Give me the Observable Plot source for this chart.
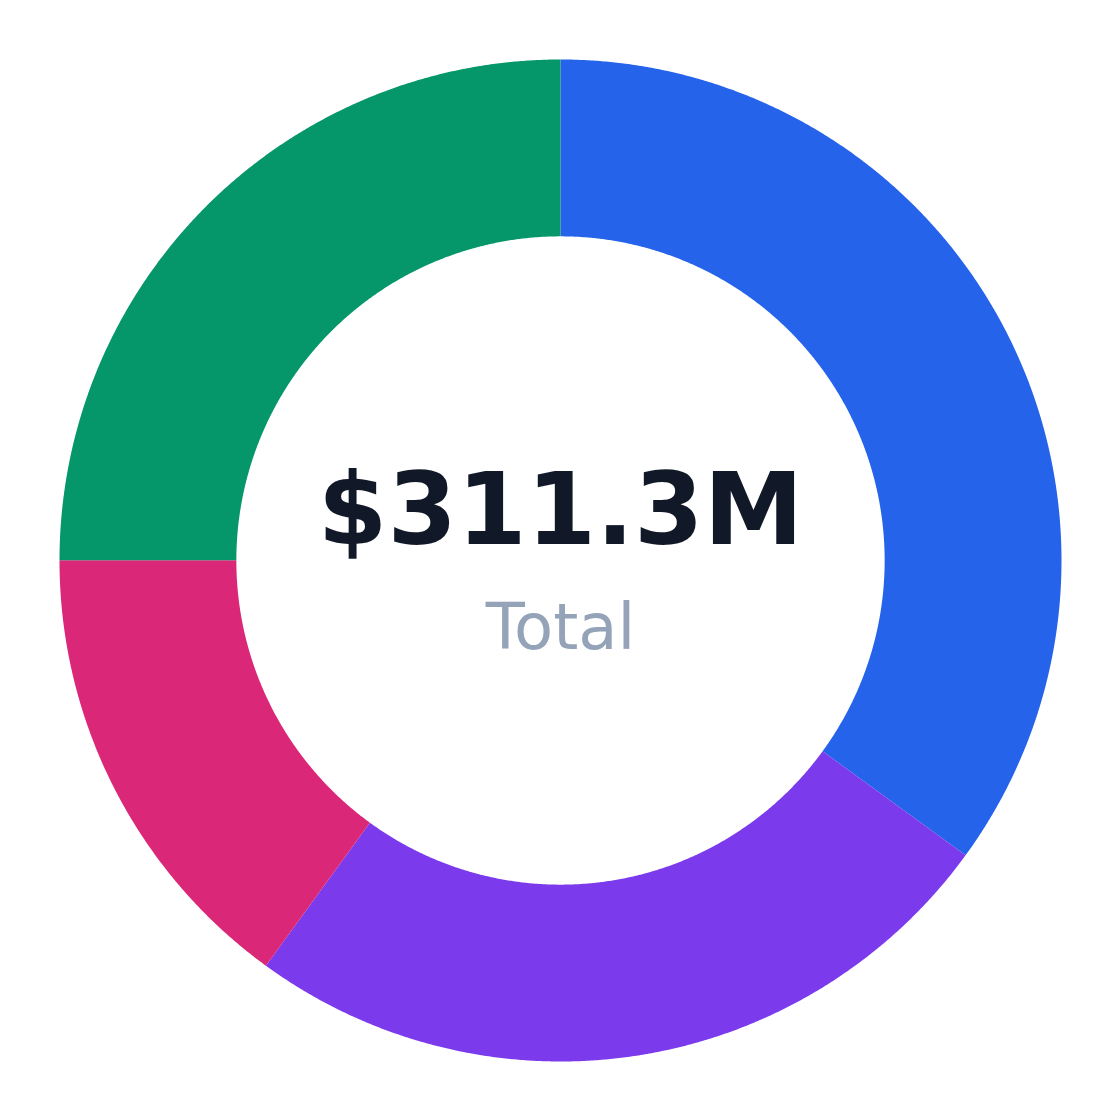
<!DOCTYPE html>
<html>
<head>
<meta charset="utf-8">
<script src="https://cdn.jsdelivr.net/npm/d3@7"></script>
<script src="https://cdn.jsdelivr.net/npm/@observablehq/plot@0.6"></script>
<style>
  html, body { margin: 0; padding: 0; background: #ffffff; overflow: hidden; }
  #chart { width: 1120px; height: 1120px; }
</style>
</head>
<body>
<div id="chart"></div>
<script>
// Data
const categories = ["Segment A", "Segment B", "Segment C", "Segment D"];
const values = [109.0, 77.8, 46.7, 77.8];
const totalLabel = "$311.3M";
const subLabel = "Total";

// Options
const palette = ["#2563eb", "#7c3aed", "#db2777", "#059669"];
const innerRatio = 0.647;

const pie = d3.pie().sort(null).value(d => d.value)(categories.map((c, i) => ({category: c, value: values[i]})));

// Build arc polygons in data space (angle clockwise from top, radius 1 = outer)
const steps = 1440;
const pts = [];
for (const p of pie) {
  const a0 = p.startAngle, a1 = p.endAngle;
  const n = Math.max(2, Math.ceil(steps * (a1 - a0) / (2 * Math.PI)));
  for (let i = 0; i <= n; i++) {
    const a = a0 + (a1 - a0) * i / n;
    pts.push({category: p.data.category, x: Math.sin(a), y: Math.cos(a)});
  }
  for (let i = n; i >= 0; i--) {
    const a = a0 + (a1 - a0) * i / n;
    pts.push({category: p.data.category, x: innerRatio * Math.sin(a), y: innerRatio * Math.cos(a)});
  }
}

const chart = Plot.plot({
  width: 1120,
  height: 1120,
  marginTop: 59, marginBottom: 59, marginLeft: 59, marginRight: 59,
  x: {domain: [-1, 1], axis: null},
  y: {domain: [-1, 1], axis: null},
  color: {domain: categories, range: palette},
  style: {fontFamily: "DejaVu Sans, sans-serif", background: "#ffffff"},
  marks: [
    Plot.line(pts, {x: "x", y: "y", z: "category", fill: "category", stroke: "none", curve: "linear"}),
    Plot.text([totalLabel], {x: () => 0, y: () => 0, text: d => d, fontSize: 100, fontWeight: "bold", fill: "#111827", textAnchor: "middle", lineAnchor: "bottom", dy: -17}),
    Plot.text([subLabel], {x: () => 0, y: () => 0, text: d => d, fontSize: 64, fill: "#94a3b8", textAnchor: "middle", lineAnchor: "bottom", dy: 88})
  ]
});
document.getElementById("chart").appendChild(chart);
</script>
</body>
</html>
